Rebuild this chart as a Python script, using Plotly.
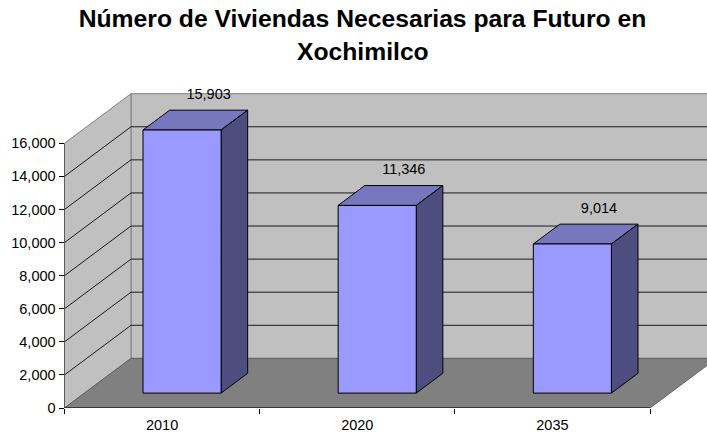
import plotly.graph_objects as go

TITLE_LINE_1 = "Número de Viviendas Necesarias para Futuro en"
TITLE_LINE_2 = "Xochimilco"
categories = ["2010", "2020", "2035"]
values = [15903, 11346, 9014]
value_labels = ["15,903", "11,346", "9,014"]
y_ticks = [0, 2000, 4000, 6000, 8000, 10000, 12000, 14000, 16000]
y_tick_labels = ["0", "2,000", "4,000", "6,000", "8,000", "10,000", "12,000", "14,000", "16,000"]

W, H = 707, 434
FONT = "Liberation Sans, Arial, sans-serif"
WALL, FLOOR, EDGE = "#C0C0C0", "#808080", "#808080"
FRONT, TOP, SIDE = "#9999FF", "#7777BD", "#4D4D80"

# oblique projection: depth 0 = front, 1 = back
DEPTH_X = 0.3407   # category slots per unit of depth
DEPTH_Y = 3000     # value units per unit of depth
BAR_W = 0.4
BAR_D0, BAR_D1 = 0.3, 0.7
N = len(categories)
Y_MAX = y_ticks[-1]


def P(i, v, d):
    return i + d * DEPTH_X, v + d * DEPTH_Y


def poly(points, fill, line="black", width=1):
    xs, ys = zip(*[P(*p) for p in points + points[:1]])
    return go.Scatter(x=xs, y=ys, mode="lines", fill="toself", fillcolor=fill,
                      line=dict(color=line, width=width), cliponaxis=False,
                      hoverinfo="skip", showlegend=False)


def path(segments, color, width=1):
    xs, ys = [], []
    for seg in segments:
        for p in seg:
            x, y = P(*p)
            xs.append(x)
            ys.append(y)
        xs.append(None)
        ys.append(None)
    return go.Scatter(x=xs, y=ys, mode="lines", line=dict(color=color, width=width),
                      cliponaxis=False, hoverinfo="skip", showlegend=False)


fig = go.Figure()
fig.add_trace(poly([(0, 0, 1), (N, 0, 1), (N, Y_MAX, 1), (0, Y_MAX, 1)], WALL, EDGE))
fig.add_trace(poly([(0, 0, 0), (0, 0, 1), (0, Y_MAX, 1), (0, Y_MAX, 0)], WALL, EDGE))
fig.add_trace(poly([(0, 0, 0), (N, 0, 0), (N, 0, 1), (0, 0, 1)], FLOOR, "#606060"))
fig.add_trace(path([[(0, v, 0), (0, v, 1), (N, v, 1)] for v in y_ticks[1:-1]], "#1A1A1A"))
fig.add_trace(path([[(0, 0, 0), (0, Y_MAX, 0)], [(0, 0, 0), (N, 0, 0)]], "black"))

for i, v in enumerate(values):
    a, b = i + 0.5 - BAR_W / 2, i + 0.5 + BAR_W / 2
    fig.add_trace(poly([(a, v, BAR_D0), (b, v, BAR_D0), (b, v, BAR_D1), (a, v, BAR_D1)], TOP))
    fig.add_trace(poly([(b, 0, BAR_D0), (b, 0, BAR_D1), (b, v, BAR_D1), (b, v, BAR_D0)], SIDE))
    fig.add_trace(poly([(a, 0, BAR_D0), (b, 0, BAR_D0), (b, v, BAR_D0), (a, v, BAR_D0)], FRONT))

lx = [P(i + 0.5, v, BAR_D1)[0] for i, v in enumerate(values)]
ly = [P(i + 0.5, v, 1.0)[1] for i, v in enumerate(values)]
fig.add_trace(go.Scatter(x=lx, y=ly, mode="text", text=value_labels, textposition="middle center",
                         textfont=dict(family=FONT, size=14.5, color="black"), cliponaxis=False,
                         hoverinfo="skip", showlegend=False))

fig.update_layout(
    width=W, height=H, margin=dict(l=0, r=0, t=0, b=0, pad=0),
    paper_bgcolor="white", plot_bgcolor="white", showlegend=False,
    font=dict(family=FONT, size=14.5, color="black"),
    title=dict(text="<b>" + TITLE_LINE_1 + "</b>", x=362.5 / W, xanchor="center", automargin=False,
               y=1 - 18.5 / H, yanchor="middle", font=dict(family=FONT, size=24.7, color="black")),
    annotations=[dict(text="<b>" + TITLE_LINE_2 + "</b>", xref="paper", yref="paper",
                      x=362.5 / W, xanchor="center", y=1 - 51.5 / H, yanchor="middle",
                      showarrow=False, font=dict(family=FONT, size=24.7, color="black"))],
    xaxis=dict(domain=[64.5 / W, 1], range=[0, 3.292], showgrid=False, zeroline=False, showline=False,
               automargin=False,
               tickmode="array", tickvals=[i + 0.5 for i in range(N)], ticktext=categories,
               ticks="outside", ticklen=4, tickcolor="rgba(0,0,0,0)",
               tickfont=dict(family=FONT, size=14.5),
               minor=dict(tickmode="array", tickvals=list(range(N + 1)), ticks="outside",
                          ticklen=5, tickcolor="black", showgrid=False)),
    yaxis=dict(domain=[26 / H, 1], range=[0, 24663], showgrid=False, zeroline=False, showline=False,
               automargin=False,
               tickmode="array", tickvals=y_ticks, ticktext=y_tick_labels,
               ticks="outside", ticklen=5, tickcolor="black", tickfont=dict(family=FONT, size=14.5)),
)

fig.write_html("out.html", config={"displayModeBar": False},
               post_script="document.body.style.margin='0';")
